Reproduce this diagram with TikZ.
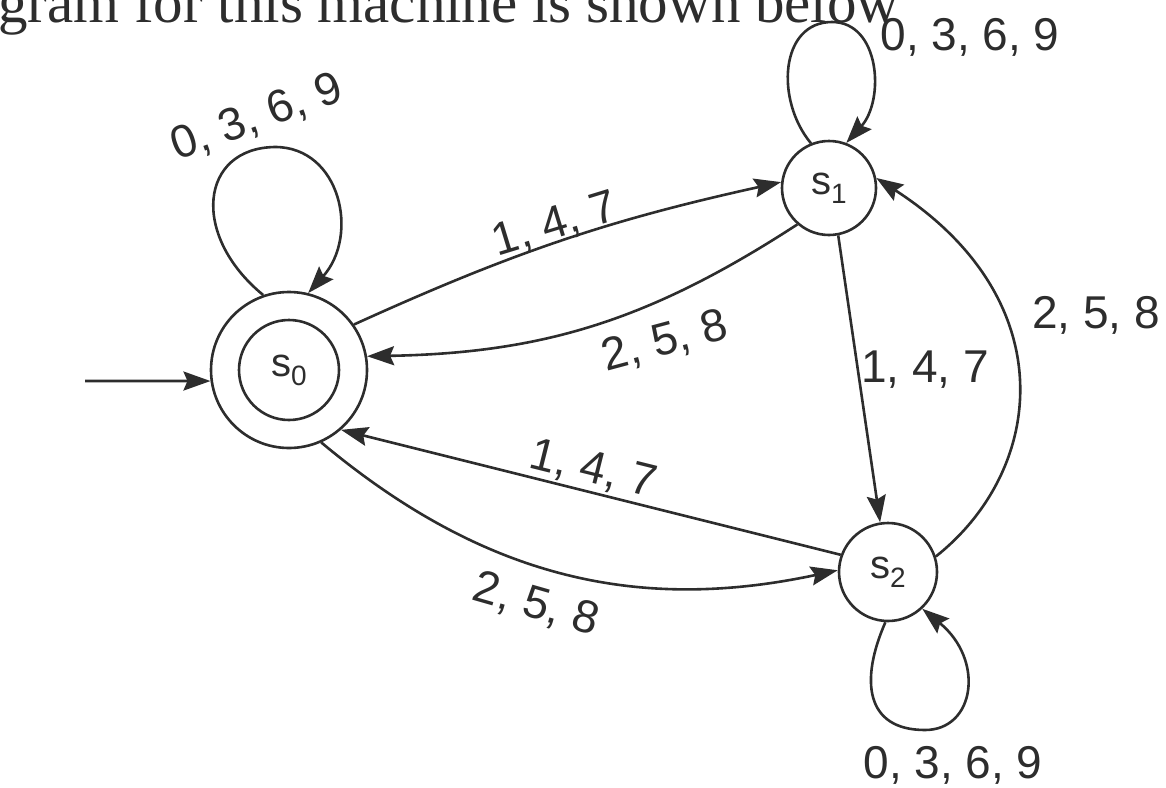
\documentclass[tikz,border=0pt]{standalone}
\usepackage{fontspec}
\setmainfont{Liberation Sans}
\newfontfamily\titleserif{Liberation Serif}
\usetikzlibrary{arrows.meta}
\definecolor{ink}{RGB}{45,45,45}
\newcommand\mysub[1]{\raisebox{-9pt}{\fontsize{28}{30}\selectfont #1}}
\begin{document}
\begin{tikzpicture}[x=1pt,y=1pt,
  state/.style={circle, draw=ink, line width=2.6pt, inner sep=0pt},
  edge/.style={draw=ink, line width=2.6pt, -{Stealth[length=27pt,width=19pt,inset=4pt]}},
  lab/.style={text=ink, font=\fontsize{46}{50}\selectfont, inner sep=0pt},
  sname/.style={text=ink, font=\fontsize{40}{44}\selectfont}]
\useasboundingbox (0,0) rectangle (1166,-787);
\begin{scope}
\clip (0,0) rectangle (1166,-787);
\node[anchor=base west, inner sep=0pt, text=ink, font=\titleserif\fontsize{59}{64}\selectfont] (title) at (-2,-22) {gram for this machine is shown below};
\end{scope}

% states
\node[state, minimum size=156pt] (s0o) at (289,-370) {};
\node[state, minimum size=100pt, sname] (s0) at (289,-370) {s\mysub{0}};
\node[state, minimum size=94pt, sname] (s1) at (829,-188) {s\mysub{1}};
\node[state, minimum size=98pt, sname] (s2) at (888,-572) {s\mysub{2}};

% initial arrow
\coordinate (init) at (85,-381);
\draw[edge] (init) -- (s0o.188);

% transitions
\draw[edge] (s0o.35) to[bend left=6] (s1.173);
\draw[edge] (s1.229) to[bend left=16] (s0o.10);
\draw[edge] (s1.-79) -- (s2.99);
\draw[edge] (s2.18) .. controls (1045,-470) and (1065,-300) .. (s1.12);
\draw[edge] (s2.160) -- (s0o.-49);
\draw[edge] (s0o.-66) to[bend right=26] (s2.178);

% loops
\draw[edge] (s0o.109) .. controls (190,-235) and (200,-148) .. (275,-147) .. controls (340,-147) and (360,-235) .. (s0o.76);
\draw[edge] (s1.112) .. controls (775,-100) and (780,-22) .. (832,-22) .. controls (880,-22) and (885,-100) .. (s1.69);
\draw[edge] (s2.-93) .. controls (860,-680) and (865,-730) .. (925,-730) .. controls (975,-730) and (985,-660) .. (s2.-47);

% labels
\node[lab, rotate=20] (l00) at (257,-118) {0, 3, 6, 9};
\node[lab] (l11) at (970,-37) {0, 3, 6, 9};
\node[lab] (l22) at (953,-765) {0, 3, 6, 9};
\node[lab, rotate=17] (l01) at (555,-225) {1, 4, 7};
\node[lab, rotate=15] (l10) at (665,-342) {2, 5, 8};
\node[lab] (l12) at (925,-370) {1, 4, 7};
\node[lab] (l21) at (1096,-315) {2, 5, 8};
\node[lab, rotate=-14] (l20) at (593,-470) {1, 4, 7};
\node[lab, rotate=-16] (l02) at (536,-605) {2, 5, 8};
\end{tikzpicture}
\end{document}
